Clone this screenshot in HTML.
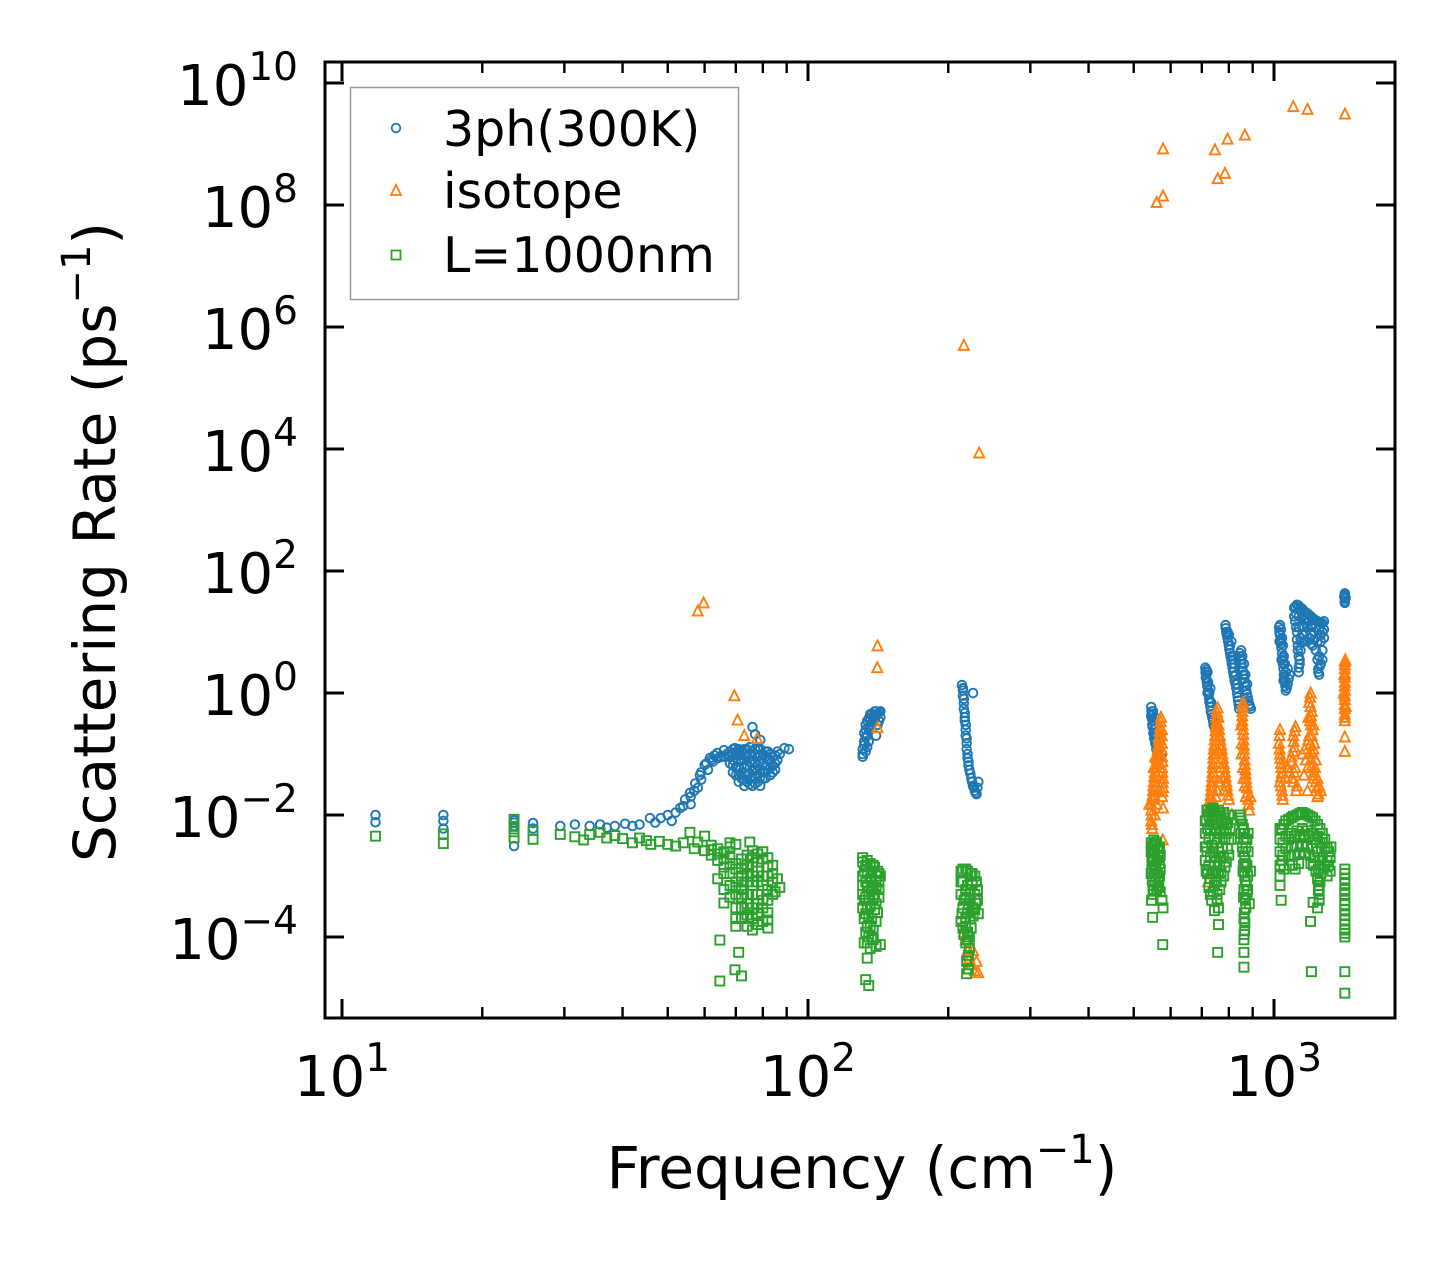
<!DOCTYPE html>
<html><head><meta charset="utf-8">
<style>
html,body{margin:0;padding:0;background:#fff;}
svg{display:block;font-family:"DejaVu Sans","Liberation Sans",sans-serif;}
</style></head>
<body>
<svg id="chart" width="1455" height="1268" viewBox="0 0 1455 1268" xmlns="http://www.w3.org/2000/svg">
<rect x="0" y="0" width="1455" height="1268" fill="#fff"/>
<g id="marks"></g>
<g id="axes"></g>
<text x="862" y="1188" font-size="58" text-anchor="middle">Frequency (cm<tspan font-size="40" dy="-25">−1</tspan><tspan dy="25">)</tspan></text>
<text transform="translate(115,542) rotate(-90)" font-size="58" text-anchor="middle">Scattering Rate (ps<tspan font-size="40" dy="-25">−1</tspan><tspan dy="25">)</tspan></text>
<g>
<rect x="350.5" y="87.5" width="388" height="212" fill="#fff" stroke="#999" stroke-width="1.5"/>
<circle cx="396" cy="128" r="4.3" fill="none" stroke="#1f77b4" stroke-width="1.8"/>
<text x="443" y="146" font-size="49">3ph(300K)</text>
<path d="M396,185 L401,195 L391,195 Z" fill="none" stroke="#ff7f0e" stroke-width="1.8"/>
<text x="443" y="208" font-size="49">isotope</text>
<rect x="391.5" y="250.5" width="9" height="9" fill="none" stroke="#2ca02c" stroke-width="1.8"/>
<text x="443" y="272" font-size="49">L=1000nm</text>
</g>
</svg>
<script>
const xTickValues=[10,100,1000];
const xTickExps=["1","2","3"];
const yTickValues=[1e-4,1e-2,1,1e2,1e4,1e6,1e8,1e10];
const yTickExps=["−4","−2","0","2","4","6","8","10"];
const threePhPoints=[[11.8,0.01],[11.8,0.0076],[16.5,0.01],[16.5,0.008],[16.5,0.006],[23.4,0.0082],[23.4,0.0066],[23.4,0.0031],[23.4,0.0075],[25.7,0.0074],[25.7,0.006],[29.4,0.0066],[31.6,0.007],[34,0.0066],[35.8,0.007],[37,0.0062],[38.5,0.0066],[40.5,0.0072],[42,0.0066],[43.5,0.007],[45.8,0.0089],[47,0.0075],[48.3,0.0089],[50,0.01],[51,0.008],
[53.2,0.013],[54.5,0.018],[55.8,0.023],[56,0.015],[57.3,0.033],[58,0.028],[58.6,0.045],[59,0.038],[60,0.066],[61,0.055],[61.6,0.086],[62.5,0.075],[63.9,0.104],[65,0.09],[66,0.116],[67,0.1],[69.7,0.125],[71,0.11],
[52,0.011],[54,0.014],[56,0.02],[57,0.025],[59,0.05],[60.5,0.07],[62,0.08],[63,0.095],[64,0.085],[66,0.09],[68,0.11],
[68,0.09],[68,0.07],[70,0.1],[70,0.06],[70,0.045],[72,0.11],[72,0.08],[72,0.05],[72,0.04],[74,0.12],[74,0.09],[74,0.065],[74,0.045],[74,0.035],[76,0.11],[76,0.08],[76,0.055],[76,0.04],[76,0.03],[78,0.12],[78,0.09],[78,0.065],[78,0.045],[78,0.035],[80,0.1],[80,0.07],[80,0.05],[80,0.04],[82,0.11],[82,0.08],[82,0.055],[84,0.09],[84,0.065],[84,0.05],[86,0.08],[76,0.277],[79,0.17],[77,0.21],[86,0.11],[89,0.125],[91,0.12],[73,0.03],[79,0.03],
[69,0.12],[69,0.1],[69,0.08],[69,0.065],[69,0.05],[71,0.12],[71,0.095],[71,0.075],[71,0.06],[71,0.045],[71,0.035],[73,0.12],[73,0.1],[73,0.08],[73,0.06],[73,0.048],[73,0.038],[75,0.13],[75,0.1],[75,0.075],[75,0.06],[75,0.048],[75,0.032],[77,0.12],[77,0.1],[77,0.07],[77,0.055],[77,0.042],[77,0.033],[79,0.12],[79,0.095],[79,0.075],[79,0.055],[79,0.042],[81,0.11],[81,0.09],[81,0.065],[81,0.05],[81,0.04],[83,0.1],[83,0.08],[83,0.06],[83,0.045],[85,0.095],[85,0.07],[85,0.055],[87,0.1],
[131,0.09],[131,0.12],[132,0.16],[132,0.22],[133,0.3],[134,0.13],[134,0.2],[135,0.38],[136,0.28],[137,0.45],[138,0.35],[139,0.5],[140,0.42],[141,0.3],[142,0.48],[143,0.4],[140,0.2],
[131,0.1],[132,0.14],[133,0.19],[133,0.25],[134,0.35],[135,0.25],[136,0.35],[136,0.45],[137,0.3],[138,0.42],[139,0.38],[140,0.5],[141,0.45],[142,0.35],[143,0.5],[133,0.11],[135,0.16],
[214,1.35],[215,1.1],[216,0.8],[216,0.55],[217,0.4],[218,0.3],[218,0.2],[219,0.15],[220,0.1],[221,0.075],[222,0.055],[224,0.04],[226,0.03],[228,0.025],[230,0.022],[232,0.035],[226,1.0],
[215,1.2],[215,0.9],[216,0.68],[217,0.47],[217,0.35],[218,0.25],[219,0.18],[219,0.12],[220,0.085],[221,0.065],[223,0.048],[225,0.035],[227,0.028],[229,0.023],[231,0.028],
[545,0.59],[548,0.45],[550,0.35],[552,0.25],[555,0.2],[558,0.16],[560,0.13],[565,0.11],[570,0.09],[548,0.3],[555,0.4],[575,0.1],
[546,0.5],[547,0.38],[549,0.28],[551,0.22],[553,0.18],[556,0.15],[559,0.12],[562,0.1],[567,0.095],[545,0.42],[550,0.5],[556,0.3],[560,0.2],
[712,2.6],[715,2.0],[718,1.5],[722,1.1],[726,0.8],[730,0.6],[735,0.45],[740,0.35],[745,0.28],[720,2.2],[730,1.2],
[713,2.2],[714,1.8],[716,1.7],[719,1.3],[720,1.0],[724,0.95],[727,0.7],[732,0.5],[737,0.4],[742,0.3],[716,2.4],[722,1.5],[726,1.0],[733,0.7],
[787,13],[790,10],[795,8],[800,6],[805,4.5],[810,3.5],[815,2.6],[820,1.9],[827,1.4],[833,1.0],[838,0.75],[842,0.55],[800,9],[810,7],
[788,11.5],[792,9],[797,7],[802,5.2],[807,4],[812,3],[817,2.2],[823,1.6],[830,1.2],[836,0.85],[840,0.65],[795,10],[805,6],[815,4],[822,3],[828,2],[834,1.4],
[845,4.5],[850,3.5],[855,2.6],[860,2],[866,1.5],[872,1.1],[878,0.85],[885,0.65],[892,0.55],[850,5],
[847,4],[852,3],[857,2.3],[863,1.7],[869,1.3],[875,0.95],[881,0.75],[888,0.6],[855,4],[862,3],[868,2],[876,1.4],
[1025,12],[1030,9],[1035,6.5],[1040,4.5],[1045,3],[1050,2],[1055,1.5],[1060,1.1],[1070,1.4],[1080,2],[1030,13],[1040,8],[1055,3],
[1027,10],[1032,7.5],[1037,5.5],[1042,3.8],[1048,2.5],[1052,1.8],[1058,1.3],[1065,1.2],[1075,1.7],[1035,11],[1045,6],[1050,4],[1060,2.2],[1070,2.5],[1028,7],[1038,3.5],[1048,1.6],
[1105,25],[1120,28],[1140,25],[1160,22],[1180,20],[1200,18],[1220,16],[1240,15],[1260,14],[1280,15],[1110,15],[1120,10],[1125,6],[1130,4],[1135,3],[1130,2.2],[1150,12],[1170,10],[1190,8],[1210,6],[1230,5],[1240,3.5],[1245,2.5],[1250,2.0],[1160,16],[1200,12],[1260,9],[1280,8],[1270,5],[1105,18],[1140,8],[1170,14],[1220,10],
[1110,26],[1130,27],[1150,24],[1170,21],[1190,19],[1210,17],[1230,15.5],[1250,14.5],[1270,14],[1115,20],[1130,18],[1150,18],[1170,17],[1190,15],[1210,13],[1230,12],[1250,11],[1270,10],[1115,12],[1130,12],[1150,9],[1160,7],[1180,12],[1200,9],[1220,7.5],[1240,7],[1260,7],[1280,11],[1120,7.5],[1125,5],[1135,3.5],[1140,5],[1145,7],[1180,7],[1200,6.5],[1250,4],[1260,3],[1270,3.5],[1130,2.6],[1245,2.2],[1255,2.8],
[1419,43],[1419,35],[1419,30],[1415,38],[1419,40],[1419,32],[1425,36]];
const isotopePoints=[[58,22],[59.7,30],[69.5,0.9],[70.6,0.36],[73,0.2],[77.8,0.18],[141,5.9],[140.8,2.6],[141,0.27],[216,5e5],[233,8600],
[578,8.3e8],[560,1.1e8],[578,1.4e8],[747,8e8],[795,1.2e9],[866,1.4e9],[757,2.7e8],[785,3.3e8],[1100,4.1e9],[1180,3.7e9],[1420,3.1e9],
[218,9e-5],[220,6e-5],[222,4.5e-5],[224,3.5e-5],[228,2.8e-5],[226,6e-5],[230,4e-5],[216,1.2e-4],[232,2.6e-5],[220,3e-5],
[572,0.4],[570,0.28],[568,0.2],[565,0.14],[562,0.1],[558,0.07],[555,0.05],[552,0.035],[550,0.025],[548,0.018],[545,0.012],[545,0.008],[548,0.006],[575,0.25],[575,0.15],[575,0.09],[575,0.06],[578,0.04],[578,0.028],[575,0.02],[540,0.015],[560,0.03],[555,0.01],[577,0.0039],[578,0.013],
[571,0.34],[569,0.24],[566,0.17],[563,0.12],[560,0.085],[557,0.06],[553,0.042],[551,0.03],[549,0.021],[546,0.015],[546,0.01],[547,0.007],[574,0.2],[574,0.12],[576,0.075],[576,0.05],[577,0.034],[576,0.024],[555,0.02],[560,0.015],[565,0.025],[560,0.045],[565,0.07],[552,0.06],[556,0.09],
[757,0.57],[752,0.4],[750,0.28],[748,0.2],[745,0.14],[742,0.1],[740,0.07],[738,0.05],[735,0.035],[733,0.025],[730,0.018],[728,0.013],[760,0.3],[765,0.2],[770,0.14],[775,0.1],[780,0.07],[785,0.05],[790,0.035],[795,0.025],[800,0.018],[740,0.01],[725,0.008],[722,0.0008],[812,0.01],
[755,0.48],[753,0.34],[749,0.24],[746,0.17],[743,0.12],[741,0.085],[739,0.06],[736,0.042],[734,0.03],[731,0.021],[729,0.015],[762,0.25],[767,0.17],[772,0.12],[777,0.085],[782,0.06],[787,0.042],[792,0.03],[797,0.021],[760,0.4],[765,0.1],[770,0.06],[775,0.04],[760,0.035],[755,0.025],[750,0.02],[745,0.015],[780,0.025],[735,0.012],[740,0.05],[750,0.1],
[858,0.69],[855,0.5],[855,0.35],[858,0.25],[860,0.17],[862,0.12],[865,0.08],[868,0.055],[870,0.04],[875,0.028],[880,0.018],[885,0.012],[890,0.02],[852,0.15],
[856,0.6],[855,0.42],[856,0.3],[859,0.21],[861,0.14],[863,0.1],[866,0.067],[869,0.047],[872,0.034],[877,0.023],[882,0.015],[850,0.3],[852,0.1],[858,0.06],[860,0.04],[865,0.03],[870,0.02],
[1030,0.25],[1025,0.15],[1030,0.1],[1035,0.07],[1040,0.05],[1030,0.035],[1040,0.025],[1045,0.018],[1112,0.28],[1100,0.2],[1105,0.13],[1090,0.09],[1110,0.06],[1095,0.04],[1120,0.03],[1198,1.0],[1190,0.7],[1205,0.5],[1195,0.35],[1210,0.25],[1185,0.17],[1215,0.12],[1200,0.08],[1225,0.06],[1210,0.045],[1230,0.035],[1250,0.03],[1240,0.02],[1160,0.045],[1150,0.1],[1180,0.025],[1260,0.025],
[1028,0.2],[1028,0.12],[1032,0.085],[1038,0.06],[1035,0.042],[1035,0.03],[1042,0.021],[1108,0.24],[1102,0.16],[1100,0.11],[1092,0.075],[1105,0.05],[1100,0.035],[1115,0.025],[1060,0.04],[1070,0.06],[1080,0.05],
[1195,0.85],[1198,0.6],[1200,0.42],[1200,0.3],[1205,0.2],[1190,0.2],[1195,0.14],[1210,0.1],[1190,0.1],[1205,0.065],[1220,0.05],[1215,0.04],[1235,0.028],[1180,0.06],[1170,0.08],[1165,0.12],[1230,0.08],[1240,0.04],[1185,0.4],[1215,0.3],[1220,0.15],[1245,0.022],
[1419,3.3],[1419,2.5],[1419,1.8],[1419,1.3],[1419,0.9],[1419,0.65],[1419,0.45],[1419,0.35],[1419,0.19],[1419,0.11],[1412,1.0],[1425,0.6],
[1419,2.9],[1419,2.1],[1419,1.5],[1419,1.1],[1419,0.78],[1419,0.55],[1419,0.4],[1422,3.5],[1416,2.0]];
const boundaryPoints=[[11.8,0.0045],[16.5,0.0049],[16.5,0.0034],[23.4,0.0085],[23.4,0.0065],[23.4,0.0053],[23.4,0.0042],[25.7,0.0056],[25.7,0.004],[29.4,0.0048],[31.6,0.0044],[33,0.0039],[34,0.0048],[35.8,0.0052],[37,0.0042],[38.5,0.0046],[40,0.0041],[42,0.0035],[43.5,0.0042],[45,0.0038],[46,0.0033],[48,0.0037],[50,0.0033],[52,0.0031],[54,0.0035],[55.8,0.0052],[57,0.0028],[58,0.0036],[60,0.0026],[60,0.0045],[62,0.0032],[62,0.0022],[64,0.0028],[64,0.0018],[66,0.0024],[66,0.0014],[68,0.002],[68,0.0011],[68,0.0035],[70,0.0016],[70,8e-4],[70,5e-4],[70,3.3e-3],[72,0.0013],[72,6e-4],[72,3e-4],[74,0.0011],[74,5e-4],[74,2.3e-4],[76,0.0014],[76,7e-4],[76,3e-4],[76,0.0026],[78,0.0012],[78,5e-4],[78,2.4e-4],[80,0.0019],[80,0.001],[80,4e-4],[82,0.0014],[82,6e-4],[82,2.5e-4],[84,0.0011],[85,5.5e-4],[87,6.5e-4],[75,0.0036],[80,0.0025],[66,3.6e-4],[64,9e-4],[70,1.5e-4],[76,1.3e-4],[82,1.4e-4],
[62,0.0027],[64,0.0023],[66,0.0019],[68,0.0016],[70,0.0013],[72,0.001],[66,0.0011],[68,7e-4],[70,6.5e-4],[72,8e-4],[74,8e-4],[74,0.0015],[76,0.001],[76,5e-4],[78,8e-4],[78,0.0017],[80,7e-4],[80,3e-4],[82,0.001],[82,4e-4],[84,8e-4],[84,5e-4],[84,0.0015],[86,9e-4],[70,3e-4],[72,4.5e-4],[72,2e-4],[74,3.5e-4],[74,1.5e-4],[76,2e-4],[78,3.5e-4],[78,1.6e-4],[80,1.8e-4],[82,1.9e-4],[68,4.5e-4],[66,6e-4],[70,2e-4],[76,0.002],[78,0.0023],[82,0.002],[72,0.0019],[74,0.0022],[66,0.0025],[68,0.003],
[64.7,8.9e-5],[71,5.6e-5],[69.7,2.9e-5],[64.7,1.9e-5],[72,2.3e-5],
[131,0.002],[134,0.0018],[138,0.0015],[141,0.0012],[132,0.0012],[136,9e-4],[140,8e-4],[143,1e-3],[131,7e-4],[135,5.5e-4],[139,5e-4],[142,6e-4],[132,4e-4],[136,3.2e-4],[140,3.5e-4],[133,2.4e-4],[137,2e-4],[141,2.5e-4],[134,1.5e-4],[138,1.3e-4],[135,1e-4],[132,8e-5],[136,6.5e-5],[140,7e-5],[134,4.5e-5],[133,2e-5],[135,1.6e-5],[143,7.5e-5],
[131,0.0017],[133,0.0015],[136,0.0016],[139,0.0014],[142,0.0011],[131,0.001],[134,0.0011],[137,0.0012],[140,0.001],[133,8e-4],[138,7e-4],[142,8e-4],[131,5e-4],[134,6.5e-4],[137,6e-4],[140,6.5e-4],[133,4.5e-4],[135,4e-4],[138,4.2e-4],[142,4.5e-4],[131,3e-4],[134,3e-4],[139,2.8e-4],[132,2e-4],[135,2.2e-4],[140,1.8e-4],[133,1.2e-4],[136,1.5e-4],[137,1e-4],[134,8e-5],[138,9e-5],
[213,0.0012],[218,0.0013],[223,0.0011],[228,0.001],[215,8e-4],[220,7e-4],[225,7.5e-4],[231,6e-4],[213,5e-4],[218,4.5e-4],[223,4e-4],[229,3.6e-4],[215,3e-4],[220,2.5e-4],[226,2.2e-4],[213,1.8e-4],[218,1.5e-4],[224,1.4e-4],[216,1.1e-4],[220,9e-5],[222,6.5e-5],[219,4e-5],[221,3e-5],[232,2.4e-4],
[215,0.0013],[220,0.0012],[225,0.0011],[230,8e-4],[213,8e-4],[218,6e-4],[223,6e-4],[228,5e-4],[216,4e-4],[221,3.5e-4],[226,3e-4],[231,4e-4],[214,2.4e-4],[218,2e-4],[223,2e-4],[228,2.8e-4],[215,1.4e-4],[220,1.2e-4],[222,1e-4],[218,8e-5],[221,5e-5],[219,2.5e-5],
[545,0.0035],[552,0.0039],[560,0.0036],[568,0.003],[545,0.0025],[555,0.0024],[565,0.002],[548,0.0017],[558,0.0015],[570,0.0013],[545,0.0011],[555,0.001],[565,8.5e-4],[550,7e-4],[560,6e-4],[570,5.5e-4],[546,4e-4],[549,2.1e-4],[577,7.5e-5],[575,4e-4],[578,3e-4],
[547,0.0031],[550,0.0028],[555,0.0033],[563,0.0028],[570,0.0022],[547,0.002],[552,0.0019],[560,0.0018],[568,0.0016],[547,0.0013],[553,0.0012],[562,0.0011],[568,0.001],[548,8.5e-4],[556,8e-4],[563,7e-4],[552,6e-4],[566,6.5e-4],[550,5e-4],
[720,0.012],[740,0.013],[760,0.012],[780,0.011],[800,0.01],[715,0.008],[735,0.009],[755,0.0085],[775,0.008],[795,0.0075],[712,0.005],[730,0.0055],[750,0.006],[770,0.0055],[790,0.005],[810,0.004],[715,0.003],[735,0.0032],[755,0.0035],[775,0.003],[795,0.0028],[712,0.0018],[730,0.002],[750,0.0021],[770,0.002],[790,0.0017],[720,0.0011],[740,0.0012],[760,0.0011],[780,0.001],[725,6.5e-4],[745,7e-4],[765,6e-4],[735,4e-4],[755,4e-4],[745,2.7e-4],[760,1.6e-4],[757,5.6e-5],[850,0.008],[860,0.006],[870,0.004],[855,0.003],[865,0.002],[875,0.0015],[858,0.0012],[868,8e-4],[878,6e-4],[860,4.5e-4],[870,3e-4],[862,2e-4],[865,1.3e-4],[862,9e-5],[862,5.6e-5],[862,3.2e-5],[880,0.005],[845,0.01],[890,0.0012],[885,3.5e-4],
[712,0.008],[712,0.003],[718,0.012],[725,0.01],[728,0.007],[732,0.012],[738,0.011],[745,0.012],[750,0.01],[758,0.01],[765,0.011],[770,0.009],[785,0.009],[790,0.007],[805,0.006],[720,0.006],[725,0.004],[740,0.007],[745,0.004],[760,0.007],[765,0.005],[780,0.006],[785,0.004],[800,0.004],[718,0.0025],[725,0.0015],[740,0.0025],[745,0.0017],[760,0.0025],[765,0.0015],[780,0.002],[785,0.0014],[800,0.0022],[715,0.0012],[728,9e-4],[735,0.0011],[750,0.0012],[752,8e-4],[770,0.0012],[740,5.5e-4],[755,5e-4],[760,3e-4],[730,5e-4],[770,8e-4],
[848,0.009],[855,0.007],[865,0.005],[875,0.004],[850,0.005],[860,0.004],[870,0.003],[880,0.0025],[858,0.0025],[868,0.0016],[878,0.001],[860,0.0015],[865,0.001],[872,7e-4],[862,6e-4],[868,4e-4],[875,5e-4],[864,2.5e-4],[866,1.7e-4],[863,1.1e-4],
[1040,0.006],[1060,0.008],[1090,0.009],[1120,0.01],[1150,0.011],[1180,0.01],[1210,0.009],[1240,0.007],[1270,0.005],[1030,0.004],[1060,0.0045],[1090,0.005],[1120,0.0055],[1150,0.006],[1180,0.0055],[1210,0.005],[1240,0.0045],[1270,0.0035],[1300,0.003],[1030,0.0025],[1060,0.0028],[1090,0.003],[1120,0.003],[1150,0.0032],[1180,0.003],[1210,0.0028],[1240,0.0025],[1270,0.002],[1300,0.0018],[1040,0.0018],[1080,0.0015],[1110,0.0013],[1200,0.0016],[1230,0.0012],[1260,0.0011],[1250,7e-4],[1250,5e-4],[1030,1e-3],[1240,3e-4],[1036,4e-4],[1198,1.8e-4],[1203,2.7e-5],[1213,3.7e-4],
[1030,0.006],[1050,0.007],[1075,0.0085],[1100,0.0095],[1135,0.0105],[1165,0.0105],[1195,0.0095],[1225,0.008],[1255,0.006],[1285,0.004],[1045,0.0035],[1075,0.004],[1105,0.0045],[1135,0.0048],[1165,0.0048],[1195,0.0045],[1225,0.004],[1255,0.0035],[1285,0.003],[1310,0.0025],[1045,0.0022],[1075,0.0022],[1105,0.0022],[1135,0.0024],[1165,0.0024],[1195,0.0022],[1225,0.002],[1255,0.0018],[1285,0.0015],[1310,0.0015],[1030,0.0015],[1050,0.0013],[1095,0.0015],[1130,0.0016],[1215,0.0015],[1245,0.0013],[1275,0.0013],[1240,9e-4],[1255,8e-4],[1245,6e-4],[1250,4e-4],[1030,7e-4],[1300,0.001],[1320,0.0012],[1320,0.002],[1325,0.003],
[1419,0.0013],[1419,9e-4],[1419,6e-4],[1419,4e-4],[1419,2.8e-4],[1419,1.9e-4],[1419,1.3e-4],[1419,1e-4],[1419,2.7e-5],[1419,1.2e-5],
[1419,0.0011],[1419,7.5e-4],[1419,5e-4],[1419,3.4e-4],[1419,2.3e-4],[1419,1.6e-4],[1419,1.15e-4]];

const NS="http://www.w3.org/2000/svg";
const L=325,R=1395,T=62,B=1018;
function xScale(v){return 342+466*(Math.log10(v)-1);}
function yScale(v){return 693-61*Math.log10(v);}
const marks=document.getElementById('marks');
const axes=document.getElementById('axes');
function mk(tag,attrs,parent){const e=document.createElementNS(NS,tag);for(const k in attrs)e.setAttribute(k,attrs[k]);parent.appendChild(e);return e;}

threePhPoints.forEach(p=>{
  const c=mk('circle',{cx:xScale(p[0]),cy:yScale(p[1]),r:4.3,fill:'none',stroke:'#1f77b4','stroke-width':1.9},marks);
  
  
});
isotopePoints.forEach(p=>{
  const x=xScale(p[0]),y=yScale(p[1]);
  const t=mk('path',{d:`M${x},${y-5.5} L${x+5},${y+4.5} L${x-5},${y+4.5} Z`,fill:'none',stroke:'#ff7f0e','stroke-width':1.9},marks);
  
  
});
boundaryPoints.forEach(p=>{
  const x=xScale(p[0]),y=yScale(p[1]);
  const s=mk('rect',{x:x-4.5,y:y-4.5,width:9,height:9,fill:'none',stroke:'#2ca02c','stroke-width':1.9},marks);
  
  
});

const fr=mk('rect',{x:L,y:T,width:R-L,height:B-T,fill:'none',stroke:'#000','stroke-width':3},axes);


for(let d=1;d<=3;d++){for(let m=1;m<=9;m++){
  const v=m*Math.pow(10,d);const x=xScale(v);
  if(x<L||x>R)continue;
  const len=m===1?19:11,w=m===1?3:2.4;
  const t1=mk('line',{x1:x,y1:B,x2:x,y2:B-len,stroke:'#000','stroke-width':w},axes);
  
  
  const t2=mk('line',{x1:x,y1:T,x2:x,y2:T+len,stroke:'#000','stroke-width':w},axes);
  
  
}}
xTickValues.forEach((v,i)=>{
  const x=xScale(v);
  const tx=mk('text',{x:x,y:1096,'font-size':56,'text-anchor':'middle'},axes);
  
  
  tx.innerHTML=`10<tspan font-size="39" dy="-25">${xTickExps[i]}</tspan>`;
});
yTickValues.forEach((v,i)=>{
  const y=yScale(v);
  const a=mk('line',{x1:L,y1:y,x2:L+19,y2:y,stroke:'#000','stroke-width':3},axes);
  
  
  const b=mk('line',{x1:R,y1:y,x2:R-19,y2:y,stroke:'#000','stroke-width':3},axes);
  
  
  const tx=mk('text',{x:298,y:y+22,'font-size':56,'text-anchor':'end'},axes);
  
  
  tx.innerHTML=`10<tspan font-size="39" dy="-25">${yTickExps[i]}</tspan>`;
});
</script>
</body></html>
